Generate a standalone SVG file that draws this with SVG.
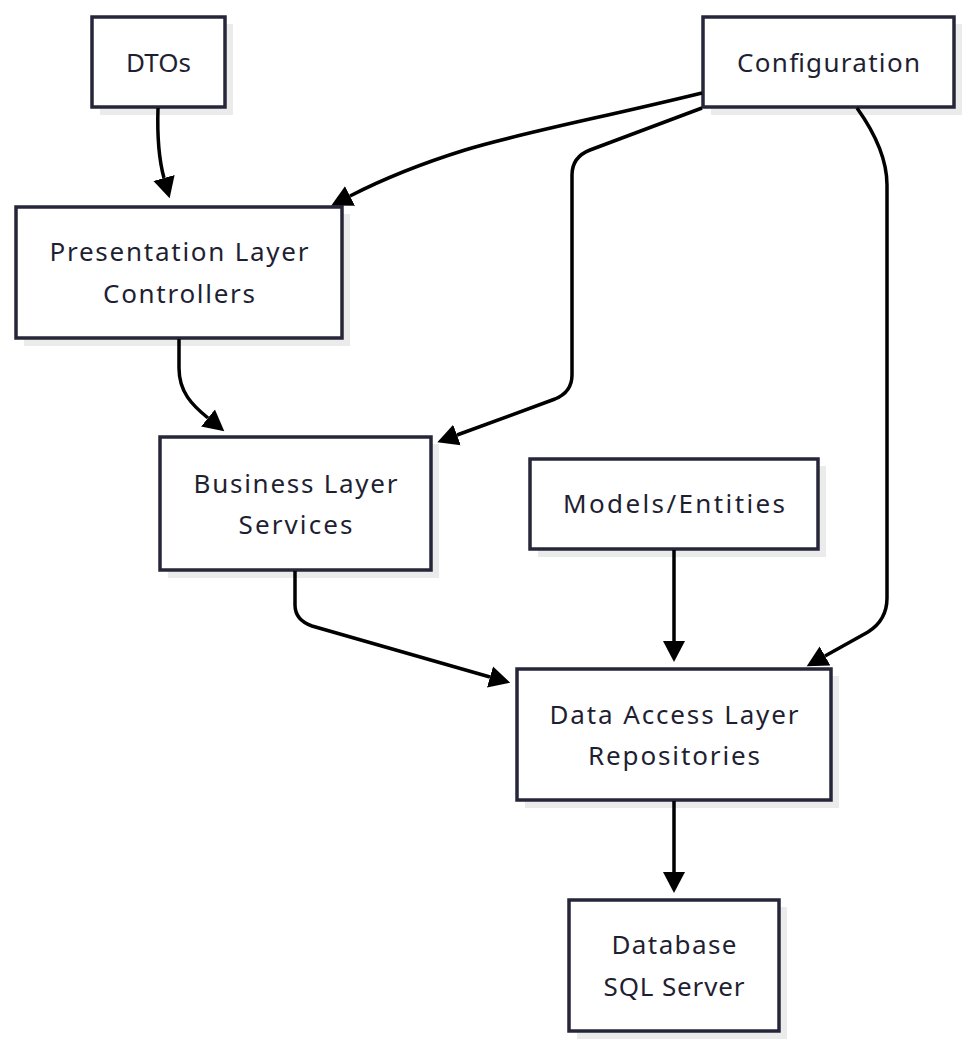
<svg xmlns="http://www.w3.org/2000/svg" width="969" height="1050" viewBox="0 0 969 1050">
<style>
.shadow{fill:#ebebeb;stroke:none}
.box{fill:#ffffff;stroke:#26263a;stroke-width:3.5}
.lbl{font-family:"Noto Sans","DejaVu Sans",sans-serif;font-size:26px;fill:#1f1f33;text-anchor:middle;dominant-baseline:central}
.edge{fill:none;stroke:#000;stroke-width:3.5}
</style>
<defs>
<marker id="arr" markerUnits="userSpaceOnUse" markerWidth="22" markerHeight="24" refX="0" refY="12" orient="auto" viewBox="0 0 22 24">
<path d="M0,1 L21,12 L0,23 z" fill="#000"/>
</marker>
</defs>
<rect width="969" height="1050" fill="#fff"/>
<g id="dtos">
<rect class="shadow" x="100" y="24" width="133" height="91"/>
<rect class="box" x="92" y="17" width="133" height="90"/>
<text class="lbl" x="158.5" y="62" textLength="65" lengthAdjust="spacing">DTOs</text>
</g>
<g id="configuration">
<rect class="shadow" x="711" y="24" width="251" height="91"/>
<rect class="box" x="703" y="17" width="251" height="90"/>
<text class="lbl" x="828.5" y="62" textLength="183" lengthAdjust="spacing">Configuration</text>
</g>
<g id="presentation">
<rect class="shadow" x="24" y="214" width="326" height="132"/>
<rect class="box" x="16" y="207" width="326" height="131"/>
<text class="lbl" x="179" y="251" textLength="259" lengthAdjust="spacing">Presentation Layer</text>
<text class="lbl" x="179" y="293" textLength="152" lengthAdjust="spacing">Controllers</text>
</g>
<g id="business">
<rect class="shadow" x="168" y="444" width="271" height="134"/>
<rect class="box" x="160" y="437" width="271" height="133"/>
<text class="lbl" x="295.5" y="483" textLength="204" lengthAdjust="spacing">Business Layer</text>
<text class="lbl" x="295.5" y="524" textLength="114" lengthAdjust="spacing">Services</text>
</g>
<g id="models">
<rect class="shadow" x="538" y="466" width="288" height="91"/>
<rect class="box" x="530" y="459" width="288" height="90"/>
<text class="lbl" x="674" y="503" textLength="222" lengthAdjust="spacing">Models/Entities</text>
</g>
<g id="dataaccess">
<rect class="shadow" x="525" y="676" width="314" height="132"/>
<rect class="box" x="517" y="669" width="314" height="131"/>
<text class="lbl" x="674" y="714" textLength="249" lengthAdjust="spacing">Data Access Layer</text>
<text class="lbl" x="674" y="755" textLength="172" lengthAdjust="spacing">Repositories</text>
</g>
<g id="database">
<rect class="shadow" x="577" y="907" width="210" height="132"/>
<rect class="box" x="569" y="900" width="210" height="131"/>
<text class="lbl" x="674" y="944" textLength="125" lengthAdjust="spacing">Database</text>
<text class="lbl" x="674" y="986" textLength="141" lengthAdjust="spacing">SQL Server</text>
</g>
<g id="edges">
<path class="edge" marker-end="url(#arr)" d="M158,108 C157,140 159,160 164,178"/>
<path class="edge" marker-end="url(#arr)" d="M702,93 C600,118 520,133 465,150 C420,164 385,178 350,196"/>
<path class="edge" marker-end="url(#arr)" d="M702,108 L590,150 Q572,157 572,175 L572,375 Q572,392 555,399 L457,435"/>
<path class="edge" marker-end="url(#arr)" d="M857,108 Q887,150 887,185 L887,598 Q887,620 868,632 L825,656"/>
<path class="edge" marker-end="url(#arr)" d="M179,339 L179,368 C179,392 192,405 208,418"/>
<path class="edge" marker-end="url(#arr)" d="M295,571 L295,605 Q295,620 312,626 L490,677"/>
<path class="edge" marker-end="url(#arr)" d="M674,550 L674,641"/>
<path class="edge" marker-end="url(#arr)" d="M674,801 L674,872"/>
</g>
</svg>
